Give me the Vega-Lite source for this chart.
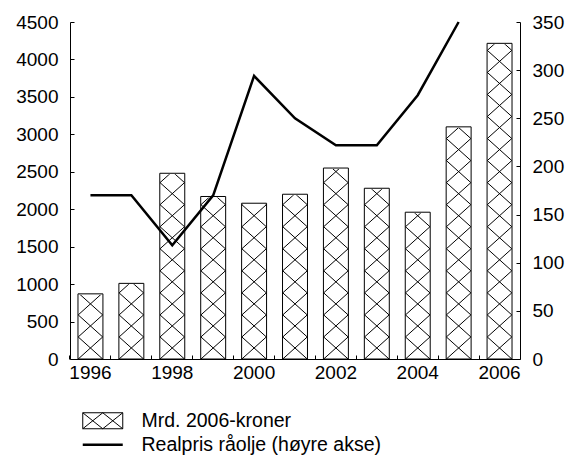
{
  "$schema": "https://vega.github.io/schema/vega-lite/v6.json",
  "width": 450,
  "height": 337,
  "autosize": {"type": "none"},
  "padding": {"left": 70, "top": 22, "right": 46, "bottom": 98},
  "background": "white",
  "config": {
    "view": {"stroke": null},
    "font": "Liberation Sans",
    "axis": {
      "labelFont": "Liberation Sans",
      "labelFontSize": 19,
      "labelColor": "black",
      "domainColor": "black",
      "domainWidth": 1,
      "tickColor": "black",
      "tickWidth": 1,
      "grid": false,
      "title": null,
      "tickSize": -4
    },
    "legend": {
      "labelFont": "Liberation Sans",
      "labelFontSize": 19.5,
      "labelColor": "black",
      "labelLimit": 500
    }
  },
  "data": {
    "values": [
      {"year": 1996, "mrd": 870, "realpris": 170},
      {"year": 1997, "mrd": 1010, "realpris": 170},
      {"year": 1998, "mrd": 2480, "realpris": 118},
      {"year": 1999, "mrd": 2170, "realpris": 170},
      {"year": 2000, "mrd": 2080, "realpris": 294},
      {"year": 2001, "mrd": 2200, "realpris": 250},
      {"year": 2002, "mrd": 2550, "realpris": 222},
      {"year": 2003, "mrd": 2280, "realpris": 222},
      {"year": 2004, "mrd": 1960, "realpris": 274},
      {"year": 2005, "mrd": 3100, "realpris": 350},
      {"year": 2006, "mrd": 4215, "realpris": null}
    ]
  },
  "layer": [
    {
      "layer": [
        {
          "mark": {
            "type": "point",
            "shape": "M-1 0L1 -1.8L-1 -3.6L1 -5.4L-1 -7.2L1 -9L-1 -10.8L1 -12.6L-1 -14.4L1 -16.2L-1 -18L1 -19.8L-1 -21.6L1 -23.4L-1 -25.2L1 -27L-1 -28.8M1 0L-1 -1.8L1 -3.6L-1 -5.4L1 -7.2L-1 -9L1 -10.8L-1 -12.6L1 -14.4L-1 -16.2L1 -18L-1 -19.8L1 -21.6L-1 -23.4L1 -25.2L-1 -27L1 -28.8",
            "size": 600,
            "filled": false,
            "stroke": "black",
            "strokeWidth": 1,
            "opacity": 1,
            "clip": true
          },
          "encoding": {
            "x": {"field": "year", "type": "ordinal", "scale": {"type": "band", "paddingInner": 0.39, "paddingOuter": 0.195}, "axis": {"bandPosition": -0.32, "labelAngle": 0, "labelPadding": 8, "labelOverlap": false, "labelExpr": "datum.value % 2 == 0 ? datum.label : ''"}},
            "y": {
              "datum": 0,
              "type": "quantitative",
              "scale": {"domain": [0, 4500], "nice": false},
              "axis": {"orient": "left", "format": "d", "values": [0, 500, 1000, 1500, 2000, 2500, 3000, 3500, 4000, 4500], "labelPadding": 16}
            }
          }
        },
        {
          "mark": {"type": "bar", "fill": "white", "stroke": "white", "strokeWidth": 2},
          "encoding": {
            "x": {"field": "year", "type": "ordinal", "scale": {"type": "band", "paddingInner": 0.39, "paddingOuter": 0.195}, "axis": {"bandPosition": -0.32, "labelAngle": 0, "labelPadding": 8, "labelOverlap": false, "labelExpr": "datum.value % 2 == 0 ? datum.label : ''"}},
            "y": {
              "field": "mrd",
              "type": "quantitative",
              "scale": {"domain": [0, 4500], "nice": false},
              "axis": {"orient": "left", "format": "d", "values": [0, 500, 1000, 1500, 2000, 2500, 3000, 3500, 4000, 4500], "labelPadding": 16}
            },
            "y2": {"datum": 4500}
          }
        },
        {
          "mark": {"type": "bar", "filled": false, "strokeWidth": 1},
          "encoding": {
            "x": {"field": "year", "type": "ordinal", "scale": {"type": "band", "paddingInner": 0.39, "paddingOuter": 0.195}, "axis": {"bandPosition": -0.32, "labelAngle": 0, "labelPadding": 8, "labelOverlap": false, "labelExpr": "datum.value % 2 == 0 ? datum.label : ''"}},
            "y": {
              "field": "mrd",
              "type": "quantitative",
              "scale": {"domain": [0, 4500], "nice": false},
              "axis": {"orient": "left", "format": "d", "values": [0, 500, 1000, 1500, 2000, 2500, 3000, 3500, 4000, 4500], "labelPadding": 16}
            },
            "color": {
              "datum": "Mrd. 2006-kroner",
              "type": "nominal",
              "scale": {"domain": ["Mrd. 2006-kroner", "Realpris råolje (høyre akse)"], "range": ["black", "black"]},
              "legend": {
                "orient": "none",
                "legendX": 23,
                "legendY": 389,
                "title": null,
                "labelLimit": 500,
                "symbolSize": 400,
                "labelOffset": 29,
                "rowPadding": 3,
                "padding": 0,
                "encode": {
                  "symbols": {
                    "update": {
                      "shape": {"signal": "datum.value === 'Mrd. 2006-kroner' ? 'M-2 -0.8H2V0.8H-2Z M-2 -0.8L0 0.8L2 -0.8 M-2 0.8L0 -0.8L2 0.8' : 'M-2 0H2'"},
                      "strokeWidth": {"signal": "datum.value === 'Mrd. 2006-kroner' ? 1 : 2.5"},
                      "stroke": {"value": "black"},
                      "fill": {"value": "transparent"},
                      "opacity": {"value": 1}
                    }
                  }
                }
              }
            }
          }
        }
      ]
    },
    {
      "mark": {"type": "line", "strokeWidth": 2.5},
      "encoding": {
        "x": {"field": "year", "type": "ordinal", "scale": {"type": "band", "paddingInner": 0.39, "paddingOuter": 0.195}, "axis": {"bandPosition": -0.32, "labelAngle": 0, "labelPadding": 8, "labelOverlap": false, "labelExpr": "datum.value % 2 == 0 ? datum.label : ''"}},
        "y": {
          "field": "realpris",
          "type": "quantitative",
          "scale": {"domain": [0, 350], "nice": false},
          "axis": {"orient": "right", "values": [0, 50, 100, 150, 200, 250, 300, 350], "labelPadding": 16}
        },
        "color": {
          "datum": "Realpris råolje (høyre akse)",
          "type": "nominal",
          "legend": {
            "orient": "none",
            "legendX": 23,
            "legendY": 389,
            "title": null,
            "labelLimit": 500,
            "symbolSize": 400,
            "labelOffset": 29,
            "rowPadding": 3,
            "padding": 0,
            "encode": {
              "symbols": {
                "update": {
                  "shape": {"signal": "datum.value === 'Mrd. 2006-kroner' ? 'M-2 -0.8H2V0.8H-2Z M-2 -0.8L0 0.8L2 -0.8 M-2 0.8L0 -0.8L2 0.8' : 'M-2 0H2'"},
                  "strokeWidth": {"signal": "datum.value === 'Mrd. 2006-kroner' ? 1 : 2.5"},
                  "stroke": {"value": "black"},
                  "fill": {"value": "transparent"},
                  "opacity": {"value": 1}
                }
              }
            }
          }
        }
      }
    }
  ],
  "resolve": {"scale": {"y": "independent"}}
}
